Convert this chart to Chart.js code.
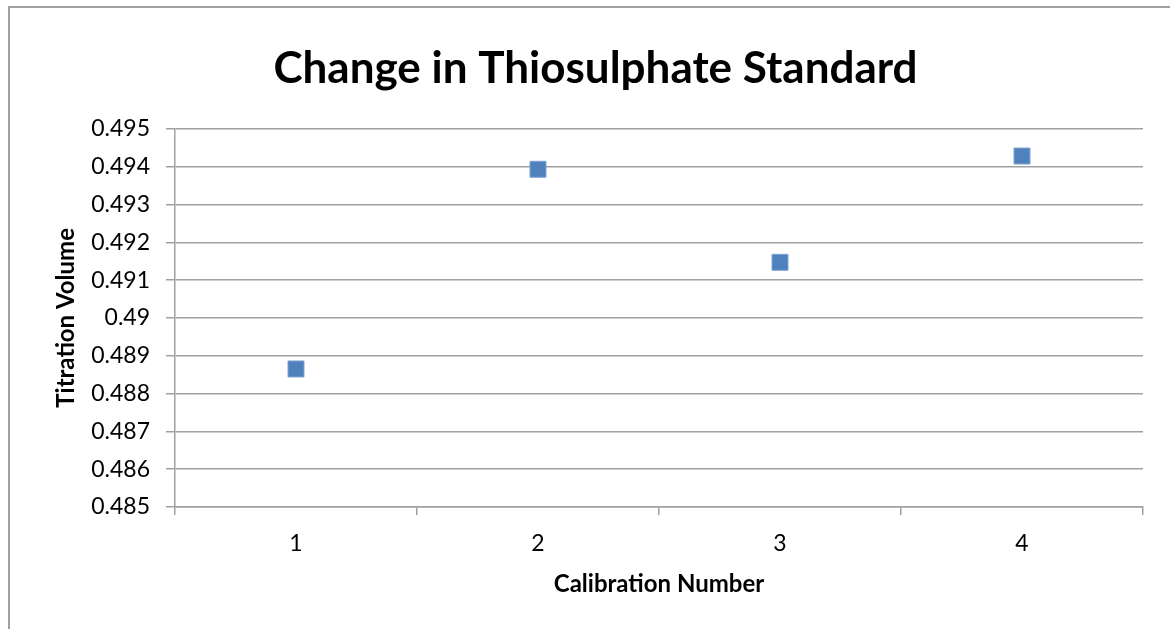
<!DOCTYPE html>
<html>
<head>
<meta charset="utf-8">
<script src="https://cdn.jsdelivr.net/npm/chart.js@4"></script>
<style>
  html, body { margin: 0; padding: 0; background: #fff; }
  #wrap { width: 1170px; height: 629px; position: relative; }
</style>
</head>
<body>
<div id="wrap"><canvas id="c" width="1170" height="629"></canvas></div>
<script>
const chartTitle = 'Change in Thiosulphate Standard';
const xAxisTitle = 'Calibration Number';
const yAxisTitle = 'Titration Volume';
const categories = ['1', '2', '3', '4'];
const titrationVolume = [0.48865, 0.49393, 0.49147, 0.49428];
const yMin = 0.485;
const yMax = 0.495;
const yStep = 0.001;

const FONT = 'Lato, "Liberation Sans", sans-serif';

const framePlugin = {
  id: 'frame',
  beforeDraw(chart) {
    const ctx = chart.ctx;
    ctx.save();
    ctx.fillStyle = '#ffffff';
    ctx.fillRect(0, 0, chart.width, chart.height);
    ctx.strokeStyle = '#a0a0a0';
    ctx.lineWidth = 2;
    ctx.strokeRect(9, 7, chart.width + 20, chart.height + 20);
    ctx.restore();
  }
};

new Chart(document.getElementById('c'), {
  type: 'line',
  data: {
    labels: categories,
    datasets: [{
      label: yAxisTitle,
      data: titrationVolume,
      showLine: false,
      pointStyle: 'rect',
      pointRadius: 11.3,
      pointHoverRadius: 11.3,
      backgroundColor: '#4F81BD',
      borderColor: '#7FA4D2',
      pointBorderWidth: 1
    }]
  },
  options: {
    responsive: false,
    animation: false,
    layout: { padding: { left: 48, right: 27, top: 0, bottom: 0 } },
    plugins: {
      legend: { display: false },
      tooltip: { enabled: false },
      title: {
        display: true,
        text: chartTitle,
        color: '#000',
        font: { family: FONT, size: 44, weight: 'bold', lineHeight: 1.2 },
        padding: { top: 42, bottom: 34 }
      }
    },
    scales: {
      x: {
        type: 'category',
        offset: true,
        border: { display: true, color: '#a0a0a0', width: 1.5 },
        grid: { display: true, offset: true, drawOnChartArea: false, drawTicks: true, tickLength: 8, color: '#a0a0a0', lineWidth: 1.5 },
        ticks: { color: '#000', font: { family: FONT, size: 23 }, padding: 15 },
        title: { display: true, text: xAxisTitle, color: '#000', font: { family: FONT, size: 24, weight: 'bold', lineHeight: 1.2 }, padding: { top: 0, bottom: 30 } },
        afterFit(scale) { scale.height = 122; }
      },
      y: {
        min: yMin,
        max: yMax,
        border: { display: true, color: '#a0a0a0', width: 1.5 },
        grid: { color: '#a0a0a0', lineWidth: 1.5, drawTicks: true, tickLength: 9 },
        ticks: {
          stepSize: yStep,
          color: '#000',
          font: { family: FONT, size: 23 },
          padding: 16,
          callback: (v) => String(parseFloat(Number(v).toFixed(3)))
        },
        title: { display: true, text: yAxisTitle, color: '#000', font: { family: FONT, size: 24, weight: 'bold', lineHeight: 1.2 }, padding: { top: 4, bottom: 0 } },
        afterFit(scale) { scale.width = 127; }
      }
    }
  },
  plugins: [framePlugin]
});
</script>
</body>
</html>
